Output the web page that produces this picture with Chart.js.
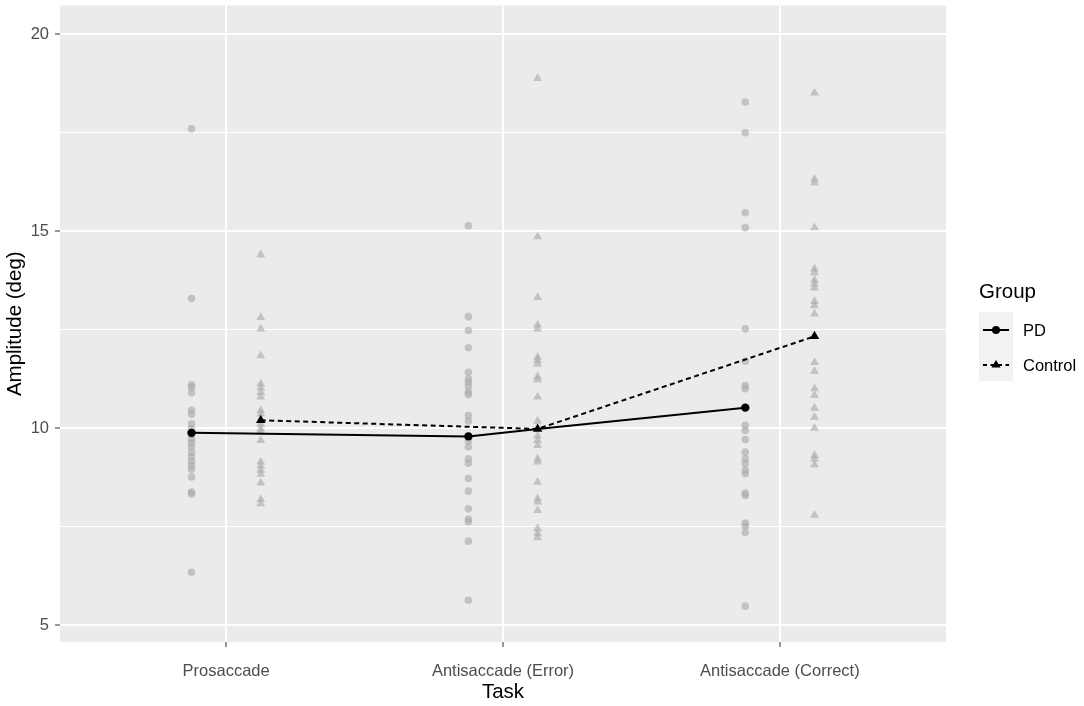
<!DOCTYPE html>
<html>
<head>
<meta charset="utf-8">
<script src="https://cdn.jsdelivr.net/npm/chart.js@4.4.1/dist/chart.umd.min.js"></script>
<style>
  body { margin: 0; background: #ffffff; }
  #wrap { width: 1084px; height: 706px; }
</style>
</head>
<body>
<div id="wrap"><canvas id="grafico" width="1084" height="706"></canvas></div>
<script>
// categorias y grupos
const tasks = ['Prosaccade', 'Antisaccade (Error)', 'Antisaccade (Correct)'];
const groups = ['PD', 'Control'];

// valores individuales (deg)
const pdPro = [17.60, 13.29, 11.10, 11.04, 10.90, 10.45, 10.35, 10.11, 9.98, 9.84, 9.72, 9.62, 9.52, 9.38, 9.27, 9.15, 9.05, 8.95, 8.76, 8.38, 8.33, 6.34];
const ctlPro = [14.40, 12.81, 12.52, 11.84, 11.12, 11.02, 10.91, 10.79, 10.45, 10.36, 10.10, 9.98, 9.90, 9.69, 9.14, 9.04, 8.93, 8.83, 8.61, 8.19, 8.08];
const pdErr = [15.14, 12.83, 12.48, 12.04, 11.42, 11.25, 11.17, 11.06, 10.91, 10.85, 10.32, 10.18, 9.80, 9.67, 9.52, 9.22, 9.11, 8.72, 8.40, 7.95, 7.69, 7.62, 7.13, 5.63];
const ctlErr = [18.88, 14.86, 13.32, 12.62, 12.52, 11.80, 11.72, 11.63, 11.31, 11.23, 10.79, 10.18, 9.80, 9.69, 9.56, 9.22, 9.14, 8.63, 8.21, 8.13, 7.91, 7.45, 7.32, 7.22];
const pdCor = [18.28, 17.50, 15.47, 15.09, 12.52, 11.70, 11.08, 11.00, 10.07, 9.94, 9.71, 9.39, 9.22, 9.10, 8.93, 8.84, 8.35, 8.29, 7.59, 7.51, 7.35, 5.48];
const ctlCor = [18.51, 16.32, 16.23, 15.09, 14.04, 13.95, 13.76, 13.66, 13.56, 13.22, 13.11, 12.90, 11.67, 11.44, 11.00, 10.83, 10.51, 10.28, 10.00, 9.31, 9.22, 9.07, 7.79];

// medias por grupo
const pdMeans = [9.88, 9.79, 10.52];
const ctlMeans = [10.20, 9.98, 12.33];

// ticks eje y
const yTicks = [5, 10, 15, 20];
const yMinor = [7.5, 12.5, 17.5];

const dodge = 0.125;
const gris = 'rgba(170,170,170,0.62)';
const fuente = '"Liberation Sans", Arial, sans-serif';

function pts(vals, x) {
    return vals.map(v => ({ x: x, y: v }));
}

const pdGrey = [].concat(pts(pdPro, 0 - dodge), pts(pdErr, 1 - dodge), pts(pdCor, 2 - dodge));
const ctlGrey = [].concat(pts(ctlPro, 0 + dodge), pts(ctlErr, 1 + dodge), pts(ctlCor, 2 + dodge));

const pdMeanPts = pdMeans.map((v, i) => ({ x: i - dodge, y: v }));
const ctlMeanPts = ctlMeans.map((v, i) => ({ x: i + dodge, y: v }));

// la linea PD pasa por la media Control de Antisaccade (Error), como en el original
const pdLine = [pdMeanPts[0], pdMeanPts[1], ctlMeanPts[1], pdMeanPts[2]];
const ctlLine = ctlMeanPts;

// fondo gris del panel
const panelBg = {
    id: 'panelBg',
    beforeDraw(chart) {
        const a = chart.chartArea, c = chart.ctx;
        c.save();
        c.fillStyle = '#ebebeb';
        c.fillRect(a.left, a.top, a.right - a.left, a.bottom - a.top);
        c.restore();
    }
};

// leyenda estilo ggplot
const leyenda = {
    id: 'leyenda',
    afterDraw(chart) {
        const c = chart.ctx;
        c.save();
        c.fillStyle = '#000';
        c.font = '20.5px ' + fuente;
        c.textBaseline = 'alphabetic';
        c.textAlign = 'left';
        c.fillText('Group', 979, 298);

        c.fillStyle = '#f2f2f2';
        c.fillRect(979, 312, 34, 69);

        const rows = [330, 365];
        c.strokeStyle = '#000';
        c.lineWidth = 2;
        // PD
        c.beginPath();
        c.moveTo(983, rows[0]); c.lineTo(1009, rows[0]);
        c.stroke();
        c.fillStyle = '#000';
        c.beginPath();
        c.arc(996, rows[0], 4, 0, Math.PI * 2);
        c.fill();
        // Control
        c.setLineDash([4, 3.5]);
        c.beginPath();
        c.moveTo(983, rows[1]); c.lineTo(1009, rows[1]);
        c.stroke();
        c.setLineDash([]);
        c.beginPath();
        c.moveTo(996, rows[1] - 5);
        c.lineTo(1000.5, rows[1] + 2.5);
        c.lineTo(991.5, rows[1] + 2.5);
        c.closePath();
        c.fill();

        c.font = '16.5px ' + fuente;
        c.textBaseline = 'middle';
        groups.forEach((g, i) => c.fillText(g, 1023, rows[i] + 1));
        c.restore();
    }
};

const ctx = document.getElementById('grafico');

new Chart(ctx, {
    type: 'scatter',
    data: {
        datasets: [
            {
                label: 'PD media',
                data: pdMeanPts,
                pointStyle: 'circle',
                pointRadius: 4.2,
                backgroundColor: '#000',
                borderColor: '#000',
                borderWidth: 0
            },
            {
                label: 'Control media',
                data: ctlMeanPts,
                pointStyle: 'triangle',
                pointRadius: 5.5,
                backgroundColor: '#000',
                borderColor: '#000',
                borderWidth: 0
            },
            {
                label: 'PD',
                data: pdLine,
                showLine: true,
                pointRadius: 0,
                borderColor: '#000',
                borderWidth: 2,
                tension: 0
            },
            {
                label: 'Control',
                data: ctlLine,
                showLine: true,
                pointRadius: 0,
                borderColor: '#000',
                borderWidth: 2,
                borderDash: [5, 3.5],
                tension: 0
            },
            {
                label: 'PD individual',
                data: pdGrey,
                pointStyle: 'circle',
                pointRadius: 3.8,
                backgroundColor: gris,
                borderWidth: 0
            },
            {
                label: 'Control individual',
                data: ctlGrey,
                pointStyle: 'triangle',
                pointRadius: 5.2,
                backgroundColor: gris,
                borderWidth: 0
            }
        ]
    },
    options: {
        responsive: false,
        animation: false,
        devicePixelRatio: 1,
        layout: { padding: { top: 4, right: 138, bottom: 0, left: 0 } },
        plugins: {
            legend: { display: false },
            tooltip: { enabled: false }
        },
        scales: {
            x: {
                type: 'linear',
                min: -0.6,
                max: 2.6,
                afterBuildTicks(scale) {
                    scale.ticks = tasks.map((t, i) => ({ value: i }));
                },
                afterFit(scale) {
                    scale.height = 64;
                    scale.paddingLeft = 0;
                    scale.paddingRight = 0;
                },
                ticks: {
                    callback: v => tasks[v],
                    color: '#4d4d4d',
                    font: { family: fuente, size: 16.5 },
                    padding: 15,
                    maxRotation: 0,
                    autoSkip: false
                },
                grid: {
                    color: '#ffffff',
                    lineWidth: 2,
                    tickColor: '#333333',
                    tickWidth: 1,
                    tickLength: 5
                },
                border: { display: false },
                title: {
                    display: true,
                    text: 'Task',
                    color: '#000',
                    font: { family: fuente, size: 20.5 },
                    padding: { top: 2, bottom: 1 }
                }
            },
            y: {
                min: 4.57,
                max: 20.73,
                afterBuildTicks(scale) {
                    scale.ticks = yTicks.concat(yMinor).sort((a, b) => a - b).map(v => ({ value: v }));
                },
                afterFit(scale) {
                    scale.width = 60;
                    scale.paddingTop = 0;
                    scale.paddingBottom = 0;
                },
                ticks: {
                    callback: v => (yTicks.includes(v) ? String(v) : ''),
                    color: '#4d4d4d',
                    font: { family: fuente, size: 16.5 },
                    padding: 6,
                    autoSkip: false
                },
                grid: {
                    color: '#ffffff',
                    lineWidth: c => (yTicks.includes(c.tick.value) ? 2 : 1),
                    tickColor: c => (yTicks.includes(c.tick.value) ? '#333333' : 'rgba(0,0,0,0)'),
                    tickWidth: 1,
                    tickLength: 5
                },
                border: { display: false },
                title: {
                    display: true,
                    text: 'Amplitude (deg)',
                    color: '#000',
                    font: { family: fuente, size: 20.5 },
                    padding: { top: 3, bottom: 2 }
                }
            }
        }
    },
    plugins: [panelBg, leyenda]
});
</script>
</body>
</html>
